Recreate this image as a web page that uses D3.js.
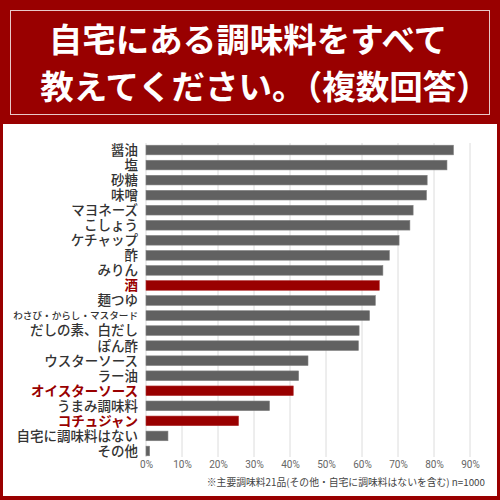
<!DOCTYPE html>
<html>
<head>
<meta charset="utf-8">
<script src="https://cdn.jsdelivr.net/npm/d3@7"></script>
<style>
  body { margin: 0; background: #fff; }
  svg { display: block; }
</style>
</head>
<body>
<svg id="chart" width="500" height="500"></svg>
<script>
var categories = ["醤油", "塩", "砂糖", "味噌", "マヨネーズ", "こしょう", "ケチャップ", "酢", "みりん", "酒",
  "麺つゆ", "わさび・からし・マスタード", "だしの素、白だし", "ぽん酢", "ウスターソース", "ラー油",
  "オイスターソース", "うまみ調味料", "コチュジャン", "自宅に調味料はない", "その他"];
var values = [85.4, 83.6, 78.1, 77.9, 74.2, 73.3, 70.3, 67.6, 65.8, 64.8,
  63.7, 62.1, 59.2, 59.0, 45.0, 42.4, 40.9, 34.3, 25.7, 6.1, 1.0];
var highlighted = ["酒", "オイスターソース", "コチュジャン"];
var tickValues = [0, 10, 20, 30, 40, 50, 60, 70, 80, 90];
var titleLines = ["自宅にある調味料をすべて", "教えてください。（複数回答）"];
var note = "※主要調味料21品(その他・自宅に調味料はないを含む) n=1000";

var red = "#990000", grey = "#616161";
var jp = "'Noto Sans CJK JP', sans-serif";

var svg = d3.select("#chart");

// frame + header
svg.append("rect").attr("width", 500).attr("height", 500).attr("fill", red);
svg.append("rect").attr("x", 3).attr("y", 124).attr("width", 494).attr("height", 372).attr("fill", "#fff");
svg.append("rect").attr("x", 10.5).attr("y", 10.5).attr("width", 479).attr("height", 104)
  .attr("fill", "none").attr("stroke", "#e8c8c8").attr("stroke-width", 1);

svg.selectAll(".title")
  .data(titleLines)
  .enter().append("text")
  .attr("class", "title")
  .attr("x", function(d, i) { return i === 0 ? 248 : 265; })
  .attr("y", function(d, i) { return 52 + i * 47; })
  .attr("text-anchor", "middle")
  .style("font-family", jp)
  .style("font-weight", "bold")
  .style("font-size", "33.5px")
  .style("fill", "#fff")
  .text(function(d) { return d; });

var x = d3.scaleLinear()
  .domain([0, 100])
  .range([146, 506]);

var y = d3.scaleBand()
  .domain(categories)
  .range([142.5, 458.5])
  .paddingInner(0.36)
  .paddingOuter(0.18);

// grid
svg.append("g")
  .selectAll("line")
  .data(tickValues)
  .enter().append("line")
  .attr("x1", function(d) { return x(d); })
  .attr("x2", function(d) { return x(d); })
  .attr("y1", 143)
  .attr("y2", 457)
  .attr("stroke", "#dcdcdc")
  .attr("stroke-width", 1);

// bars
svg.append("g")
  .selectAll("rect")
  .data(values)
  .enter().append("rect")
  .attr("x", x(0))
  .attr("y", function(d, i) { return y(categories[i]); })
  .attr("width", function(d) { return x(d) - x(0); })
  .attr("height", y.bandwidth())
  .attr("fill", function(d, i) { return highlighted.indexOf(categories[i]) >= 0 ? red : grey; })
  .attr("stroke", function(d, i) { return highlighted.indexOf(categories[i]) >= 0 ? "#b03030" : "#808080"; })
  .attr("stroke-width", 0.6);

// category labels
svg.append("g")
  .selectAll("text")
  .data(categories)
  .enter().append("text")
  .attr("x", 138)
  .attr("y", function(d) { return y(d) + y.bandwidth() / 2; })
  .attr("dy", "0.36em")
  .attr("text-anchor", "end")
  .style("font-family", jp)
  .style("font-size", function(d) { return d.length > 10 ? "9.6px" : "13.5px"; })
  .style("font-weight", function(d) { return highlighted.indexOf(d) >= 0 ? "bold" : "500"; })
  .style("fill", function(d) { return highlighted.indexOf(d) >= 0 ? red : "#333"; })
  .text(function(d) { return d; });

// x axis
var axis = svg.append("g")
  .attr("transform", "translate(0,454)")
  .call(d3.axisBottom(x).tickValues(tickValues).tickSize(0).tickPadding(7)
    .tickFormat(function(d) { return d + "%"; }));
axis.select(".domain").remove();
axis.selectAll("text")
  .style("font-family", "Roboto, sans-serif")
  .style("font-size", "10px")
  .style("fill", "#666");

svg.append("text")
  .attr("x", 485)
  .attr("y", 486)
  .attr("text-anchor", "end")
  .style("font-family", jp)
  .style("font-size", "9.8px")
  .style("fill", "#444")
  .text(note);
</script>
</body>
</html>
